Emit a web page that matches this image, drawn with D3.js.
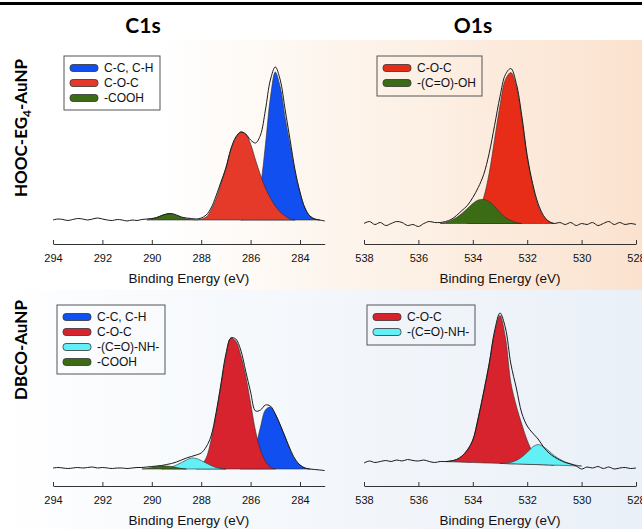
<!DOCTYPE html>
<html>
<head>
<meta charset="utf-8">
<script src="https://cdn.jsdelivr.net/npm/d3@7"></script>
<style>
body { margin: 0; background: #fff; }
svg { display: block; }
</style>
</head>
<body>
<div class="container"></div>
<script>
// Binding energy grids (eV)
const c1sEnergy = [294.0,293.8,293.6,293.4,293.2,293.0,292.8,292.6,292.4,292.2,
  292.0,291.8,291.6,291.4,291.2,291.0,290.8,290.6,290.4,290.2,
  290.0,289.8,289.6,289.4,289.2,289.0,288.8,288.6,288.4,288.2,
  288.0,287.8,287.6,287.4,287.2,287.0,286.8,286.6,286.4,286.2,
  286.0,285.8,285.6,285.4,285.2,285.0,284.8,284.6,284.4,284.2,
  284.0,283.8,283.6,283.4,283.2,283.0];
const o1sEnergy = [538.0,537.8,537.6,537.4,537.2,537.0,536.8,536.6,536.4,536.2,
  536.0,535.8,535.6,535.4,535.2,535.0,534.8,534.6,534.4,534.2,
  534.0,533.8,533.6,533.4,533.2,533.0,532.8,532.6,532.4,532.2,
  532.0,531.8,531.6,531.4,531.2,531.0,530.8,530.6,530.4,530.2,
  530.0,529.8,529.6,529.4,529.2,529.0,528.8,528.6,528.4,528.2,
  528.0];

const c1sTicks = [294, 292, 290, 288, 286, 284];
const o1sTicks = [538, 536, 534, 532, 530, 528];

// HOOC-EG4-AuNP, C1s
const hoocC1sRaw = [0,1,0.5,-0.5,0.5,1.5,1,0,1,2,
  1,0,-0.5,0.5,0,-1,0,-0.5,0.5,1,
  1.5,2.5,4.5,6,6.5,5,3,2,1.5,1,
  2,5,12,24,38,52,71,83,88,86,
  80,77,85,110,140,153,140,110,80,50,
  28,12,4,1,0,-1];
const hoocC1sCC = [0,0,0,0,0,0,0,0,0,0,
  0,0,0,0,0,0,0,0,0,0,
  0,0,0,0,0,0,0,0,0,0,
  0,0,0,0,0,0,0,0,0,1,
  4,12,34,75,122,148,133,102,75,48,
  27,12,4,1,0,0];
const hoocC1sCOC = [0,0,0,0,0,0,0,0,0,0,
  0,0,0,0,0,0,0,0,0,0,
  0,0,0,0,0,0,0,0,0,0,
  1,3,10,21,36,52,70,82,88,86,
  76,60,45,32,22,14,8,4,1,0,
  0,0,0,0,0,0];
const hoocC1sCOOH = [0,0,0,0,0,0,0,0,0,0,
  0,0,0,0,0,0,0,0,0,0,
  1,2.5,4.5,6,6,4.5,2.5,1.2,0.5,0,
  0,0,0,0,0,0,0,0,0,0,
  0,0,0,0,0,0,0,0,0,0,
  0,0,0,0,0,0];

// HOOC-EG4-AuNP, O1s
const hoocO1sRaw = [0,2,-1,1,-2,0,2,1,-2,-1,
  -3,0,2,1,1,2,4,8,13,18,
  26,36,49,70,98,127,149,155,140,108,
  68,40,20,8,2,0,1,-1,1,-2,
  0,-1,1,-2,0,2,-1,1,-1,0,
  -1];
const hoocO1sCOC = [0,0,0,0,0,0,0,0,0,0,
  0,0,0,0,0,0,0,0,0,0,
  4,12,26,50,84,118,144,151,137,105,
  66,38,18,7,2,0,0,0,0,0,
  0,0,0,0,0,0,0,0,0,0,
  0];
const hoocO1sCOOH = [0,0,0,0,0,0,0,0,0,0,
  0,0,0,0,0,1,3,6,10,15,
  20,23.5,24,22,17,11,6,3,1,0,
  0,0,0,0,0,0,0,0,0,0,
  0,0,0,0,0,0,0,0,0,0,
  0];

// DBCO-AuNP, C1s
const dbcoC1sRaw = [1,1.5,1,0.5,1,1.5,1,1.5,2,1,
  1.5,1,0.5,1,1,0.5,1,1.5,1.5,2,
  2.5,3,3.5,4.5,5.5,7,9,11,12.5,14,
  16,22,33,56,85,115,131,130,119,98,
  77,58,59,64,63,55,44,32,20,10,
  4,1,0,-0.5,-1,-1.5];
const dbcoC1sCC = [0,0,0,0,0,0,0,0,0,0,
  0,0,0,0,0,0,0,0,0,0,
  0,0,0,0,0,0,0,0,0,0,
  0,0,0,0,0,0,0,0,0,3,
  9,22,42,59,62,55,44,32,19,9,
  4,1,0,0,0,0];
const dbcoC1sCOC = [0,0,0,0,0,0,0,0,0,0,
  0,0,0,0,0,0,0,0,0,0,
  0,0,0,0,0,0,0,0,0,0,
  4,11,29,54,84,113,131,128,114,93,
  66,38,19,8,2,0,0,0,0,0,
  0,0,0,0,0,0];
const dbcoC1sAmide = [0,0,0,0,0,0,0,0,0,0,
  0,0,0,0,0,0,0,0,0,0,
  0,0,0,1,2,4,6.5,9,11,10.5,
  8.5,6,3.5,1.5,0.5,0,0,0,0,0,
  0,0,0,0,0,0,0,0,0,0,
  0,0,0,0,0,0];
const dbcoC1sCOOH = [0,0,0,0,0,0,0,0,0,0,
  0,0,0,0,0,0,0,0,0,0.5,
  1.5,2.5,3,3,2.5,1.5,0.5,0,0,0,
  0,0,0,0,0,0,0,0,0,0,
  0,0,0,0,0,0,0,0,0,0,
  0,0,0,0,0,0];

// DBCO-AuNP, O1s
const dbcoO1sRaw = [5,7,5.5,6.5,7.5,6.5,8,7,8.5,7.5,
  7,8,6.5,5.5,6.5,6.5,7,8.5,12,18,
  28,50,76,104,137,155,140,104,80,55,
  42,35,29,21,15,11,8,5.5,4,2,
  -1,1,0,1.5,-0.5,1,-1,0,0.5,-0.5,
  0];
const dbcoO1sBg = [6.3,6.3,6.3,6.3,6.3,6.3,6.3,6.3,6.3,6.3,
  6.3,6.3,6.3,6.3,6.3,6.3,6.2,6.0,5.8,5.6,
  5.5,5.3,5.1,4.9,4.8,4.6,4.4,4.2,4.1,3.9,
  3.7,3.5,3.4,3.2,3.0,2.8,2.7,2.5,2.3,2.1,
  2.0,1.9,1.8,1.7,1.6,1.5,1.4,1.3,1.2,1.1,
  1.0];
const dbcoO1sCOC = [0,0,0,0,0,0,0,0,0,0,
  0,0,0,0,0,0,1,2.5,6,12.5,
  22.5,45,71,99,130,148,126,81,58,40,
  24,12.5,5.5,2,0.5,0,0,0,0,0,
  0,0,0,0,0,0,0,0,0,0,
  0];
const dbcoO1sAmide = [0,0,0,0,0,0,0,0,0,0,
  0,0,0,0,0,0,0,0,0,0,
  0,0,0,0,0,0,0.5,1.5,3.5,7,
  12,17.5,20,18,14,9.5,6,3.5,1.8,0.7,
  0,0,0,0,0,0,0,0,0,0,
  0];

const columnTitles = ["C1s", "O1s"];
const xTitle = "Binding Energy (eV)";

// Colours
const blue = "#124ff0";
const redTop = "#e5392a";
const redO1s = "#e72d18";
const redBottom = "#d6232e";
const green = "#3b6c15";
const cyan = "#62f0f7";

const w = 642;
const h = 529;

const svg = d3.select(".container")
  .append("svg")
  .attr("width", w)
  .attr("height", h);

// Background tints
const defs = svg.append("defs");
const warm = defs.append("linearGradient").attr("id", "warm");
warm.append("stop").attr("offset", "0%").attr("stop-color", "#ffffff");
warm.append("stop").attr("offset", "25%").attr("stop-color", "#ffffff");
warm.append("stop").attr("offset", "55%").attr("stop-color", "#fdf4eb");
warm.append("stop").attr("offset", "100%").attr("stop-color", "#fbe2cf");
const cool = defs.append("linearGradient").attr("id", "cool");
cool.append("stop").attr("offset", "0%").attr("stop-color", "#ffffff");
cool.append("stop").attr("offset", "20%").attr("stop-color", "#f9fbfd");
cool.append("stop").attr("offset", "100%").attr("stop-color", "#eaf0f8");

svg.append("rect").attr("x", 0).attr("y", 0).attr("width", w).attr("height", h).attr("fill", "#fff");
svg.append("rect").attr("x", 0).attr("y", 40).attr("width", w).attr("height", 250).attr("fill", "url(#warm)");
svg.append("rect").attr("x", 0).attr("y", 290).attr("width", w).attr("height", h - 290).attr("fill", "url(#cool)");

// Top rule
svg.append("rect").attr("x", 0).attr("y", 2).attr("width", w).attr("height", 3).attr("fill", "#000");

// Column titles
svg.selectAll(".col-title")
  .data(columnTitles)
  .enter()
  .append("text")
  .attr("class", "col-title")
  .attr("x", (d, i) => [143, 473][i])
  .attr("y", 33)
  .style("font-family", "Lato, 'Open Sans', sans-serif")
  .style("font-weight", "bold")
  .style("font-size", "21px")
  .style("text-anchor", "middle")
  .text(d => d);

// Row labels
const rowLabel1 = svg.append("text")
  .attr("transform", "translate(27,128) rotate(-90)")
  .style("font-family", "Lato, 'Open Sans', sans-serif")
  .style("font-weight", "bold")
  .style("font-size", "17px")
  .style("text-anchor", "middle");
rowLabel1.append("tspan").text("HOOC-EG");
rowLabel1.append("tspan").attr("dy", 4).style("font-size", "12px").text("4");
rowLabel1.append("tspan").attr("dy", -4).text("-AuNP");

svg.append("text")
  .attr("transform", "translate(27,350) rotate(-90)")
  .style("font-family", "Lato, 'Open Sans', sans-serif")
  .style("font-weight", "bold")
  .style("font-size", "17px")
  .style("text-anchor", "middle")
  .text("DBCO-AuNP");

// Panels
const panels = [
  {
    energy: c1sEnergy, raw: hoocC1sRaw, ticks: c1sTicks,
    xDomain: [294, 283], xRange: [53, 324.7], base: 220, axisY: 244,
    comps: [
      {name: "C-C, C-H", values: hoocC1sCC, color: blue},
      {name: "C-O-C", values: hoocC1sCOC, color: redTop},
      {name: "-COOH", values: hoocC1sCOOH, color: green}
    ],
    legend: {x: 64, y: 56, w: 96, h: 54}
  },
  {
    energy: o1sEnergy, raw: hoocO1sRaw, ticks: o1sTicks,
    xDomain: [538, 528], xRange: [364, 636], base: 223.5, axisY: 244,
    comps: [
      {name: "C-O-C", values: hoocO1sCOC, color: redO1s},
      {name: "-(C=O)-OH", values: hoocO1sCOOH, color: green}
    ],
    legend: {x: 377, y: 56, w: 105, h: 40}
  },
  {
    energy: c1sEnergy, raw: dbcoC1sRaw, ticks: c1sTicks,
    xDomain: [294, 283], xRange: [53, 324.7], base: 469, axisY: 486,
    comps: [
      {name: "C-C, C-H", values: dbcoC1sCC, color: blue},
      {name: "C-O-C", values: dbcoC1sCOC, color: redBottom},
      {name: "-(C=O)-NH-", values: dbcoC1sAmide, color: cyan},
      {name: "-COOH", values: dbcoC1sCOOH, color: green}
    ],
    legend: {x: 57, y: 305, w: 108, h: 69}
  },
  {
    energy: o1sEnergy, raw: dbcoO1sRaw, bg: dbcoO1sBg, ticks: o1sTicks,
    xDomain: [538, 528], xRange: [364, 636], base: 468, axisY: 486,
    comps: [
      {name: "C-O-C", values: dbcoO1sCOC, color: redBottom},
      {name: "-(C=O)-NH-", values: dbcoO1sAmide, color: cyan}
    ],
    legend: {x: 367, y: 305, w: 108, h: 40}
  }
];

panels.forEach(p => {
  const xScale = d3.scaleLinear().domain(p.xDomain).range(p.xRange);
  const yScale = d3.scaleLinear().domain([0, 160]).range([p.base, p.base - 160]);
  const g = svg.append("g");

  // Fitted components, filled from the background
  p.comps.forEach(c => {
    const pts = p.energy
      .map((e, i) => ({e: e, v: c.values[i], b: p.bg ? p.bg[i] : 0, i: i}))
      .filter(d => c.values[d.i] > 0 || c.values[d.i - 1] > 0 || c.values[d.i + 1] > 0);
    const area = d3.area()
      .x(d => xScale(d.e))
      .y0(d => yScale(d.b))
      .y1(d => yScale(d.b + d.v))
      .curve(d3.curveCatmullRom);
    g.append("path")
      .datum(pts)
      .attr("d", area)
      .attr("fill", c.color)
      .attr("stroke", "#2b2b2b")
      .attr("stroke-width", 0.6)
      .attr("stroke-linejoin", "round");
  });

  // Measured spectrum
  const line = d3.line()
    .x((d, i) => xScale(p.energy[i]))
    .y(d => yScale(d))
    .curve(d3.curveCatmullRom);
  g.append("path")
    .datum(p.raw)
    .attr("d", line)
    .attr("fill", "none")
    .attr("stroke", "#1a1a1a")
    .attr("stroke-width", 1);

  // x-axis
  const xAxis = d3.axisBottom(xScale)
    .tickValues(p.ticks)
    .tickSizeInner(-4)
    .tickSizeOuter(0)
    .tickPadding(10)
    .tickFormat(d3.format("d"));
  const ax = g.append("g")
    .attr("transform", `translate(0,${p.axisY})`)
    .call(xAxis);
  ax.select(".domain").attr("stroke", "#333");
  ax.selectAll(".tick line").attr("stroke", "#333");
  ax.selectAll(".tick text")
    .attr("fill", "#111")
    .style("font-family", "'Liberation Sans', Arial, sans-serif")
    .style("font-size", "11px");

  g.append("text")
    .attr("x", (p.xRange[0] + p.xRange[1]) / 2)
    .attr("y", p.axisY + 39)
    .style("font-family", "'Liberation Sans', Arial, sans-serif")
    .style("font-size", "13.5px")
    .style("text-anchor", "middle")
    .attr("fill", "#111")
    .text(xTitle);

  // Legend
  const lg = p.legend;
  const legend = g.append("g").attr("transform", `translate(${lg.x},${lg.y})`);
  legend.append("rect")
    .attr("width", lg.w)
    .attr("height", lg.h)
    .attr("fill", "none")
    .attr("stroke", "#555")
    .attr("stroke-width", 1);
  const rows = legend.selectAll(".row")
    .data(p.comps)
    .enter()
    .append("g")
    .attr("transform", (d, i) => `translate(0,${12 + i * 15})`);
  rows.append("rect")
    .attr("x", 6)
    .attr("y", -3.5)
    .attr("width", 28)
    .attr("height", 7)
    .attr("rx", 3)
    .attr("fill", d => d.color)
    .attr("stroke", "#333")
    .attr("stroke-width", 0.8);
  rows.append("text")
    .attr("x", 40)
    .attr("y", 4.2)
    .style("font-family", "'Liberation Sans', Arial, sans-serif")
    .style("font-size", "12px")
    .attr("fill", "#111")
    .text(d => d.name);
});
</script>
</body>
</html>
